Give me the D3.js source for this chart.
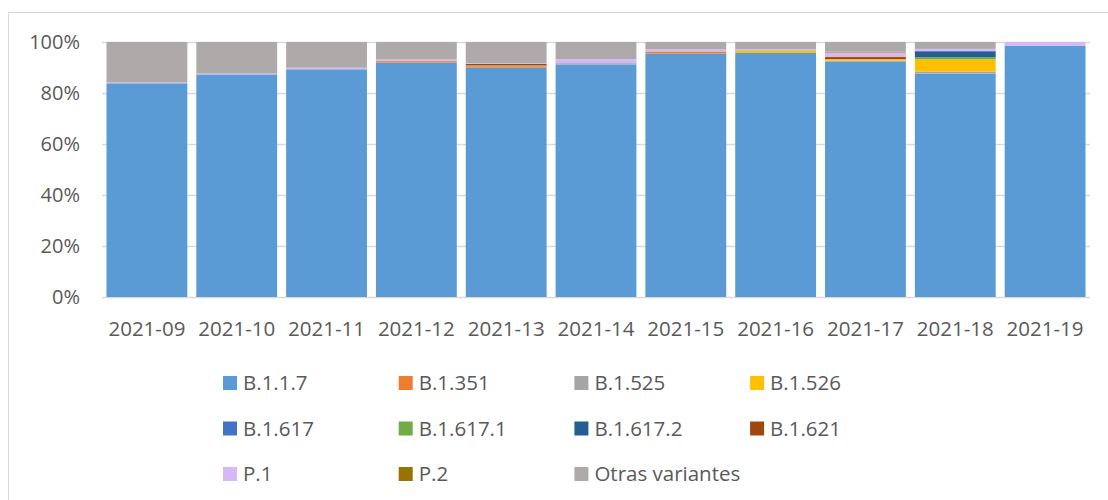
<!DOCTYPE html>
<html>
<head>
<meta charset="utf-8">
<script src="https://cdn.jsdelivr.net/npm/d3@7"></script>
<style>
  body { margin: 0; background: #fff; }
  svg text { font-family: "Open Sans", sans-serif; fill: #595959; }
</style>
</head>
<body>
<div id="chart-area"></div>
<script>
const weeks = ['2021-09', '2021-10', '2021-11', '2021-12', '2021-13', '2021-14',
  '2021-15', '2021-16', '2021-17', '2021-18', '2021-19'];

const variants = ['B.1.1.7', 'B.1.351', 'B.1.525', 'B.1.526', 'B.1.617', 'B.1.617.1',
  'B.1.617.2', 'B.1.621', 'P.1', 'P.2', 'Otras variantes'];

// share of sequences per week (%)
const b117 = [83.8, 87.3, 89.3, 91.9, 89.9, 91.2, 95.5, 95.7, 92.4, 87.6, 98.6];
const b1351 = [0, 0, 0, 0.6, 0.6, 0, 0.8, 0, 0, 0, 0];
const b1525 = [0, 0, 0, 0, 0.3, 0.5, 0, 0, 0.3, 0.8, 0];
const b1526 = [0, 0, 0, 0, 0, 0, 0, 0.8, 0.6, 4.8, 0];
const b1617 = [0, 0, 0, 0, 0, 0, 0, 0, 0, 0, 0];
const b16171 = [0, 0, 0, 0, 0, 0, 0, 0.2, 0, 0.8, 0];
const b16172 = [0, 0, 0, 0, 0, 0, 0, 0, 0, 2.4, 0];
const b1621 = [0, 0, 0, 0, 0.6, 0, 0, 0, 0.8, 0, 0];
const p1 = [0.3, 0.3, 0.6, 0.6, 0.3, 1.6, 0.8, 0.4, 1.8, 0.9, 1.4];
const p2 = [0, 0, 0, 0, 0, 0, 0, 0, 0.3, 0, 0];
const otras = [15.9, 12.4, 10.1, 6.9, 8.3, 6.7, 2.9, 2.9, 3.8, 2.7, 0];

const yTicks = [0, 0.2, 0.4, 0.6, 0.8, 1];

const colors = ['#5B9BD5', '#ED7D31', '#A5A5A5', '#FFC000', '#4472C4', '#70AD47',
  '#255E91', '#9E480E', '#D5B9F6', '#997300', '#AEAAAA'];

const drawChart = () => {
  const series = [b117, b1351, b1525, b1526, b1617, b16171, b16172, b1621, p1, p2, otras];
  const rows = weeks.map((w, i) => {
    const row = { week: w };
    variants.forEach((v, j) => row[v] = series[j][i]);
    return row;
  });

  const svg = d3.select('#chart-area')
    .append('svg')
    .attr('width', 1108)
    .attr('height', 500);

  // chart border
  svg.append('rect')
    .attr('x', 8.5).attr('y', 12.5)
    .attr('width', 1110).attr('height', 510)
    .attr('fill', 'none').attr('stroke', '#D9D9D9');

  const margin = { left: 102, top: 42 };
  const width = 988;
  const height = 255;

  const g = svg.append('g')
    .attr('transform', `translate(${margin.left},${margin.top})`);

  const x = d3.scaleBand()
    .domain(weeks)
    .range([0, width])
    .paddingInner(0.1)
    .paddingOuter(0.05);

  const y = d3.scaleLinear()
    .domain([0, 1])
    .range([height, 0]);

  g.selectAll('.grid').data(yTicks).enter()
    .append('line')
    .attr('class', 'grid')
    .attr('x1', 0).attr('x2', width)
    .attr('y1', d => y(d) + 0.5).attr('y2', d => y(d) + 0.5)
    .attr('stroke', '#D9D9D9')
    .attr('stroke-width', 1.3);

  g.selectAll('.y-label').data(yTicks).enter()
    .append('text')
    .attr('class', 'y-label')
    .attr('x', -22)
    .attr('y', d => y(d))
    .attr('dy', '0.36em')
    .attr('text-anchor', 'end')
    .style('font-size', '20px')
    .text(d3.format('.0%'));

  const stack = d3.stack()
    .keys(variants)
    .offset(d3.stackOffsetExpand);

  const layers = g.selectAll('.layer').data(stack(rows)).enter()
    .append('g')
    .attr('class', 'layer')
    .attr('fill', (d, i) => colors[i]);

  layers.selectAll('rect').data(d => d).enter()
    .append('rect')
    .attr('x', d => x(d.data.week))
    .attr('y', d => y(d[1]))
    .attr('width', x.bandwidth())
    .attr('height', d => y(d[0]) - y(d[1]));

  g.selectAll('.x-label').data(weeks).enter()
    .append('text')
    .attr('class', 'x-label')
    .attr('x', d => x(d) + x.bandwidth() / 2)
    .attr('y', height + 39)
    .attr('text-anchor', 'middle')
    .style('font-size', '20.5px')
    .text(d => d);

  // legend, 4 columns
  const legend = svg.selectAll('.legend').data(variants).enter()
    .append('g')
    .attr('class', 'legend')
    .attr('transform', (d, i) => `translate(${223 + (i % 4) * 175.7},${383 + Math.floor(i / 4) * 45.5})`);

  legend.append('rect')
    .attr('x', 0).attr('y', -7)
    .attr('width', 14).attr('height', 14)
    .attr('fill', (d, i) => colors[i]);

  legend.append('text')
    .attr('x', 20)
    .attr('dy', '0.36em')
    .style('font-size', '20.5px')
    .text(d => d);
}

const main = () => {
  drawChart();
}
window.onload = main;
</script>
</body>
</html>
